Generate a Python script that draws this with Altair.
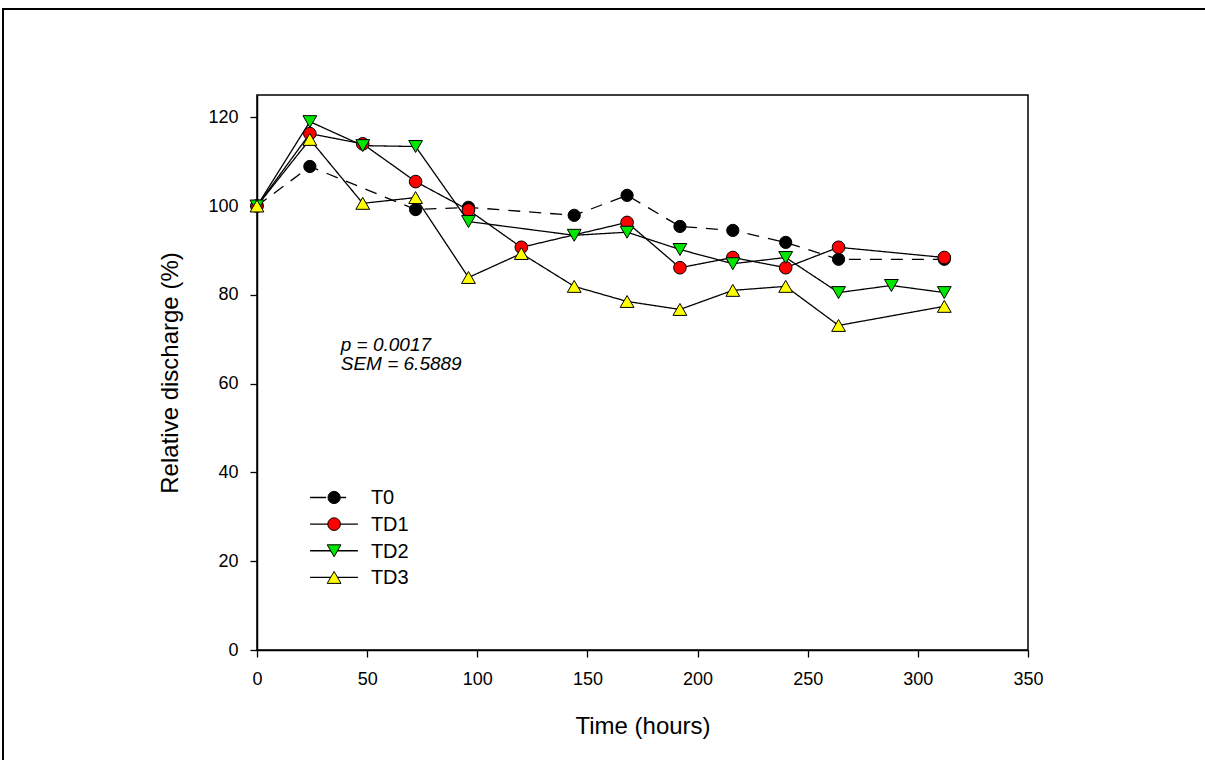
import altair as alt
import pandas as pd

# ---- data ----
series = ["T0", "TD1", "TD2", "TD3"]

t0_time = [0, 24, 72, 96, 144, 168, 192, 216, 240, 264, 312]
t0_val = [100, 108.9, 99.2, 99.7, 97.9, 102.4, 95.4, 94.5, 91.8, 88.0, 88.0]

td1_time = [0, 24, 48, 72, 96, 120, 168, 192, 216, 240, 264, 312]
td1_val = [100, 116.3, 114.0, 105.5, 99.1, 90.7, 96.3, 86.1, 88.4, 86.1, 90.7, 88.4]

td2_time = [0, 24, 48, 72, 96, 144, 168, 192, 216, 240, 264, 288, 312]
td2_val = [100, 119.0, 113.6, 113.4, 96.5, 93.4, 94.1, 90.2, 87.0, 88.4, 80.5, 82.1, 80.5]

td3_time = [0, 24, 48, 72, 96, 120, 144, 168, 192, 216, 240, 264, 312]
td3_val = [100, 115.0, 100.6, 101.9, 83.9, 89.3, 81.9, 78.5, 76.7, 81.0, 81.9, 73.1, 77.4]

ann_text = ["p = 0.0017", "SEM = 6.5889"]

x_ticks = [0, 50, 100, 150, 200, 250, 300, 350]
y_ticks = [0, 20, 40, 60, 80, 100, 120]

# ---- styles ----
fills = ["#000000", "#ff0000", "#00e600", "#ffff00"]
shapes = ["circle", "circle", "triangle-down", "triangle-up"]
sizes = [150, 160, 190, 190]
line_dash = [[12, 9], [1, 0], [1, 0], [1, 0]]
legend_dash = [[16, 14, 6, 200], [1, 0], [1, 0], [1, 0]]

# ---- layout (data units of the chart's own scales) ----
ANN_X, ANN_Y0, ANN_STEP = 38, 67.4, 4.4
LEG_X0, LEG_X1, LEG_XM, LEG_XT = 24.1, 45.8, 35.0, 51.7
LEG_Y0, LEG_STEP = 34.35, 6.0

# ---- tables ----
rows = []
for name, ts, vs in zip(series, [t0_time, td1_time, td2_time, td3_time],
                        [t0_val, td1_val, td2_val, td3_val]):
    for t, v in zip(ts, vs):
        rows.append({"series": name, "time": t, "value": v})
df = pd.DataFrame(rows)

ann = pd.DataFrame({"text": ann_text,
                    "x": [ANN_X] * len(ann_text),
                    "y": [ANN_Y0 - i * ANN_STEP for i in range(len(ann_text))]})

leg_df = pd.DataFrame({"series": series,
                       "x0": [LEG_X0] * 4, "x1": [LEG_X1] * 4,
                       "xm": [LEG_XM] * 4, "xt": [LEG_XT] * 4,
                       "ly": [LEG_Y0 - i * LEG_STEP for i in range(4)]})

FONT = "Liberation Sans"
W, H = 771, 555

xs = alt.Scale(domain=[0, 350], nice=False, zero=False)
ys = alt.Scale(domain=[0, 125], nice=False)

x_enc = alt.X("time:Q", scale=xs, axis=alt.Axis(
    values=x_ticks, title="Time (hours)", tickSize=7, labelPadding=13,
    titlePadding=26, labelFontSize=18, titleFontSize=24, labelFlush=False))
y_enc = alt.Y("value:Q", scale=ys, axis=alt.Axis(
    values=y_ticks, title="Relative discharge (%)", tickSize=7, labelPadding=12,
    titlePadding=25, labelFontSize=18, titleFontSize=24, labelFlush=False))

base = alt.Chart(df)
leg_base = alt.Chart(leg_df)

layers = []

frame = alt.Chart(pd.DataFrame({"a": [0]})).mark_rect(
    filled=False, stroke="black", strokeWidth=2).encode(
    x=alt.value(-254), x2=alt.value(W + 200), y=alt.value(-86), y2=alt.value(H + 200))
layers.append(frame)

layers.append(base.mark_line(color="black", strokeWidth=1.3).encode(
    x=x_enc, y=y_enc,
    detail="series:N",
    strokeDash=alt.StrokeDash("series:N", scale=alt.Scale(domain=series, range=line_dash), legend=None),
))

for name, shp, fc, sz, ld in zip(series, shapes, fills, sizes, legend_dash):
    # data points
    layers.append(
        base.transform_filter(alt.datum.series == name).mark_point(
            filled=True, shape=shp, fill=fc, size=sz, stroke="black",
            strokeWidth=1, opacity=1
        ).encode(x=x_enc, y=y_enc)
    )
    sel = leg_base.transform_filter(alt.datum.series == name)
    # legend line
    layers.append(sel.mark_rule(color="black", strokeWidth=1.3, strokeDash=ld).encode(
        x=alt.X("x0:Q", scale=xs), x2="x1:Q", y=alt.Y("ly:Q", scale=ys)))
    # legend marker
    layers.append(sel.mark_point(
        filled=True, shape=shp, fill=fc, size=sz, stroke="black", strokeWidth=1, opacity=1
    ).encode(x=alt.X("xm:Q", scale=xs), y=alt.Y("ly:Q", scale=ys)))

# legend labels
layers.append(leg_base.mark_text(align="left", baseline="middle", fontSize=20, font=FONT,
                                 color="black", dy=1).encode(
    x=alt.X("xt:Q", scale=xs), y=alt.Y("ly:Q", scale=ys), text="series:N"))

# annotation
layers.append(alt.Chart(ann).mark_text(align="left", baseline="alphabetic", fontStyle="italic",
                                       fontSize=19, font=FONT, color="black").encode(
    x=alt.X("x:Q", scale=xs), y=alt.Y("y:Q", scale=ys), text="text:N"))

chart = alt.layer(*layers).properties(
    width=W, height=H,
    autosize=alt.AutoSizeParams(type="none"),
    padding={"left": 257, "top": 95, "right": 1205 - 257 - W, "bottom": 760 - 95 - H},
    background="white",
).configure(font=FONT).configure_view(
    stroke="black", strokeWidth=1.5
).configure_axis(
    domainColor="black", domainWidth=1.5, tickColor="black", tickWidth=1.3,
    labelColor="black", titleColor="black", grid=False, labelFont=FONT, titleFont=FONT,
    titleFontWeight="normal"
)

chart.save("out.html", embed_options={"renderer": "svg", "actions": False})
